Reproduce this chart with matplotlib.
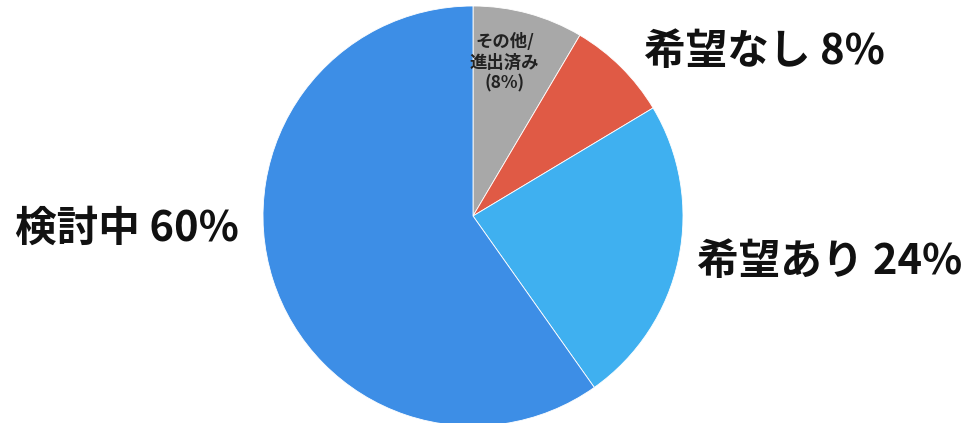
import matplotlib.pyplot as plt

plt.rcParams['font.family'] = ['Noto Sans CJK JP', 'DejaVu Sans']

labels = ["その他/\n進出済み\n(8%)", "希望なし 8%", "希望あり 24%", "検討中 60%"]
# shares as drawn in the picture (labels are rounded)
values = [8.5, 7.9, 23.8, 59.8]
colors = ["#a8a8a8", "#e05a45", "#3fb0f0", "#3d8ee6"]

# label positions (data coords, pie radius = 1)
outer_pos = {1: (1.39, 0.78), 2: (1.70, -0.22), 3: (-1.65, -0.06)}
inner_pos = (0.15, 0.73)

fig = plt.figure(figsize=(9.79, 4.23), dpi=100)
cx, cy, r = 473, 216, 210
ax = fig.add_axes([(cx - r) / 979, (423 - cy - r) / 423, 2 * r / 979, 2 * r / 423])

ax.pie(values, colors=colors, startangle=90, counterclock=False,
       wedgeprops=dict(edgecolor="white", linewidth=0.6))
ax.set_xlim(-1, 1)
ax.set_ylim(-1, 1)
ax.set_aspect("equal")
ax.axis("off")

ax.text(*inner_pos, labels[0], ha="center", va="center", fontsize=12.5,
        fontweight="bold", color="#222222", linespacing=1.2)
for i, (x, y) in outer_pos.items():
    ax.text(x, y, labels[i], ha="center", va="center", fontsize=30,
            fontweight="bold", color="#111111")

fig.savefig("out.png", dpi=100, facecolor="white")
